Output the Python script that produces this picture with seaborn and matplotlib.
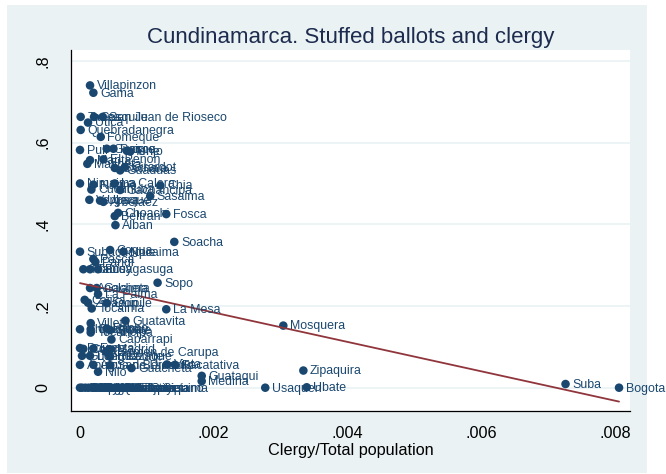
import matplotlib
matplotlib.use("Agg")
import matplotlib.pyplot as plt
import seaborn as sns
import pandas as pd
from matplotlib.patches import Rectangle

# Municipalities of Cundinamarca
municipio = [
    "Villapinzon", "Gama", "Tausa", "Sesquile", "San Juan de Rioseco", "Utica",
    "Quebradanegra", "Fomeque", "Puli", "Guasca", "Paime", "Tenjo", "Une",
    "Manta", "Macheta", "El Penon", "Gachala", "Guaduas", "Girardot",
    "Nimaima", "Narino", "La Calera", "Chia", "Cucunuba", "Gachancipa",
    "Sasaima", "Vergara", "Ubaque", "Arbelaez", "Choachi", "Beltran", "Fosca",
    "Alban", "Soacha", "Subachoque", "Cogua", "Nocaima", "Pasca", "Pandi",
    "Tibacuy", "Tabio", "Fusagasuga", "Sopo", "Anolaima", "Gacheta",
    "La Palma", "Cajica", "Zipacon", "Quipile", "Tocaima", "La Mesa",
    "Guatavita", "Villeta", "Chipaque", "Cachipay", "Pacho", "Sibate",
    "Tocancipa", "Caparrapi", "Bojaca", "Cota", "Funza", "Madrid",
    "Carmen de Carupa", "Gutierrez", "Lenguazaque", "Ricaurte", "Apulo",
    "Agua de Dios", "San Bernardo", "Guacheta", "Viota", "Facatativa", "Nilo",
    "Guataqui", "Medina", "Zipaquira", "Mosquera", "Usaquen", "Ubate", "Suba",
    "Bogota", "Anapoima", "Bituima", "Chaguani", "Engativa", "Fontibon",
    "Bosa", "Usme", "Jerusalen", "Junin", "Quetame", "San Cayetano",
    "Simijaca", "Sutatausa", "Tibirita", "Topaipi", "Guayabal de Siquima",
]

# Clergy as a share of total population
clergy = [
    0.00015, 0.00020, 0.00001, 0.00021, 0.00034, 0.00012,
    0.00001, 0.00031, 0.00000, 0.00040, 0.00050, 0.00070, 0.00075,
    0.00015, 0.00011, 0.00035, 0.00052, 0.00060, 0.00067,
    0.00000, 0.00020, 0.00052, 0.00120, 0.00017, 0.00060,
    0.00105, 0.00014, 0.00030, 0.00035, 0.00057, 0.00052, 0.00129,
    0.00053, 0.00141, 0.00000, 0.00045, 0.00065, 0.00020, 0.00023,
    0.00005, 0.00015, 0.00027, 0.00116, 0.00015, 0.00025,
    0.00027, 0.00007, 0.00012, 0.00040, 0.000175, 0.00129,
    0.00068, 0.00016, 0.00000, 0.00016, 0.00040, 0.00045,
    0.00016, 0.00047, 0.00000, 0.00005, 0.00020, 0.00045,
    0.00039, 0.00003, 0.00015, 0.00045, 0.00000,
    0.00020, 0.00045, 0.00077, 0.00130, 0.00142, 0.00027,
    0.00182, 0.00182, 0.00334, 0.00304, 0.00277, 0.00339, 0.00726,
    0.00806, 0.00000, 0.00008, 0.00013, 0.00018, 0.00024,
    0.00029, 0.00034, 0.00040, 0.00046, 0.00052, 0.00058,
    0.00064, 0.00070, 0.00078, 0.00086, 0.00003,
]

# Share of stuffed ballots
stuffed = [
    0.740, 0.722, 0.663, 0.663, 0.663, 0.649,
    0.631, 0.614, 0.582, 0.585, 0.585, 0.580, 0.578,
    0.557, 0.548, 0.559, 0.538, 0.532, 0.540,
    0.500, 0.497, 0.500, 0.495, 0.485, 0.484,
    0.469, 0.460, 0.458, 0.455, 0.428, 0.420, 0.425,
    0.398, 0.357, 0.333, 0.337, 0.333, 0.315, 0.308,
    0.290, 0.290, 0.290, 0.257, 0.244, 0.244,
    0.229, 0.215, 0.208, 0.207, 0.194, 0.192,
    0.164, 0.158, 0.143, 0.143, 0.145, 0.141,
    0.135, 0.118, 0.097, 0.095, 0.096, 0.094,
    0.088, 0.078, 0.078, 0.076, 0.056,
    0.056, 0.055, 0.048, 0.057, 0.056, 0.039,
    0.029, 0.016, 0.042, 0.152, 0.000, 0.001, 0.009,
    0.000, 0.000, 0.000, 0.000, 0.000, 0.000,
    0.000, 0.000, 0.000, 0.000, 0.000, 0.000,
    0.000, 0.000, 0.000, 0.000, 0.000,
]

# Linear fit endpoints
fit_x = [0.0, 0.00806]
fit_y = [0.256, -0.034]

x_ticks = [0, 0.002, 0.004, 0.006, 0.008]
x_tick_labels = ["0", ".002", ".004", ".006", ".008"]
y_ticks = [0, 0.2, 0.4, 0.6, 0.8]
y_tick_labels = ["0", ".2", ".4", ".6", ".8"]

NAVY = "#1a476f"
MAROON = "#90353b"
BG = "#eaf2f3"
TITLE = "#1c2b4e"

df = pd.DataFrame({"municipio": municipio, "clergy": clergy, "stuffed": stuffed})
fit = pd.DataFrame({"clergy": fit_x, "stuffed": fit_y})

sns.set_style("white")
plt.rcParams["font.family"] = ["Liberation Sans", "DejaVu Sans"]

W, H = 666, 474
fig = plt.figure(figsize=(W / 100, H / 100), dpi=100, facecolor="white")
fig.patches.append(Rectangle((7 / W, 1 - 473 / H), 640 / W, 468 / H,
                             transform=fig.transFigure, facecolor=BG,
                             edgecolor="none", zorder=-10))

L, R, T, B = 70.7, 630, 50, 410.7
ax = fig.add_axes([L / W, 1 - B / H, (R - L) / W, (B - T) / H])
ax.set_zorder(1)
ax.set_facecolor("white")

for yv in y_ticks:
    ax.axhline(yv, color=BG, lw=1.2, zorder=0)

sns.scatterplot(data=df, x="clergy", y="stuffed", ax=ax, color=NAVY,
                s=38, edgecolor="none", zorder=3, legend=False)
sns.lineplot(data=fit, x="clergy", y="stuffed", ax=ax, color=MAROON,
             lw=1.3, zorder=4, legend=False)

for name, xv, yv in zip(municipio, clergy, stuffed):
    ax.annotate(name, (xv, yv), xytext=(4.8, -0.6), textcoords="offset points",
                ha="left", va="center", fontsize=8.9, color=NAVY, zorder=5)

ax.set_xlim(-0.000139, 0.008224)
ax.set_ylim(-0.0563, 0.8267)

ax.set_xticks(x_ticks)
ax.set_xticklabels(x_tick_labels, fontsize=11.7)
ax.set_yticks(y_ticks)
ax.set_yticklabels(y_tick_labels, fontsize=11.7, rotation=90, va="center")
ax.tick_params(axis="both", direction="out", length=5.2, width=0.8,
               color="black", pad=6, labelcolor="black")
ax.tick_params(axis="y", pad=9.5)

for side in ["top", "right"]:
    ax.spines[side].set_visible(False)
for side in ["left", "bottom"]:
    ax.spines[side].set_color("black")
    ax.spines[side].set_linewidth(0.9)

ax.set_xlabel("Clergy/Total population", fontsize=11.7, color="black", labelpad=1)
ax.set_ylabel("")

fig.text(0.5 * (L + R) / W, 1 - 37 / H, "Cundinamarca. Stuffed ballots and clergy",
         ha="center", va="center", fontsize=16, color=TITLE)

fig.savefig("out.png", dpi=100, facecolor="white")
